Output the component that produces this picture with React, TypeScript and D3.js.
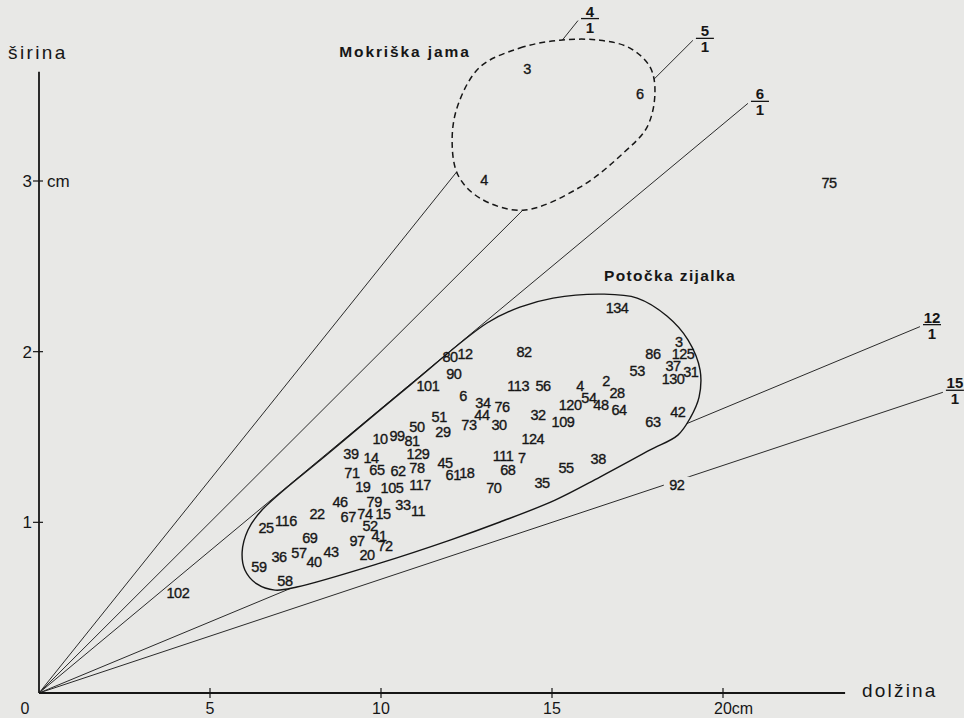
import React, { useEffect, useRef } from "react";
import * as d3 from "d3";

const WIDTH = 964;
const HEIGHT = 718;
const PAPER = "#e8e8e6";
const INK = "#161616";
const FONT = "'Liberation Sans', Arial, sans-serif";

// axes
const xTicks = [5, 10, 15, 20];
const yTicks = [1, 2, 3];

// ratio lines (length : width) and the length (cm) where each one stops
const ratios = [4, 5, 6, 12, 15];
const ratioEnds = [15.76, 19.12, 20.73, 25.76, 26.43];

// outlines, [length, width] in cm
const mokriskaOutline: [number, number][] = [
  [12.89, 3.667], [14.06, 3.779], [15.23, 3.825], [16.4, 3.825], [17.28, 3.779],
  [17.87, 3.667], [18.01, 3.515], [17.78, 3.316], [17.08, 3.163], [15.82, 2.964],
  [14.15, 2.829], [12.89, 2.9], [12.25, 3.035], [12.08, 3.24], [12.25, 3.445],
];

const potockaOutline: [number, number][] = [
  [13.1, 2.168], [14.06, 2.261], [15.03, 2.314], [16.49, 2.337], [17.49, 2.314],
  [18.36, 2.209], [18.98, 2.068], [19.33, 1.892], [19.3, 1.734], [19.04, 1.611],
  [18.68, 1.511], [17.87, 1.424], [16.4, 1.265], [15.09, 1.13], [13.48, 1.002],
  [12.02, 0.896], [9.97, 0.761], [7.54, 0.621], [6.9, 0.603], [6.37, 0.639],
  [6.02, 0.721], [5.94, 0.826], [6.11, 0.955], [6.52, 1.072], [8.51, 1.412],
  [10.85, 1.804],
];

// Mokriška jama specimens
const mokriskaIds = ["3", "6", "4"];
const mokriskaLength = [14.27, 17.57, 13.01];
const mokriskaWidth = [3.66, 3.51, 3.01];

// single specimen outside both groups
const otherIds = ["75"];
const otherLength = [23.1];
const otherWidth = [2.99];

// Potočka zijalka specimens
const potockaIds = [
  "134", "3", "86", "125", "37", "53", "31", "130", "82", "113", "56", "4", "2", "28",
  "54", "120", "48", "64", "42", "32", "109", "63", "124", "101", "6", "34", "76", "51",
  "44", "73", "30", "50", "29", "99", "10", "81", "129", "111", "7", "38", "45", "62",
  "78", "61", "18", "68", "55", "117", "105", "70", "35", "92", "39", "14", "71", "65",
  "19", "46", "79", "33", "11", "22", "67", "74", "15", "116", "25", "52", "69", "41",
  "97", "72", "57", "43", "20", "36", "40", "59", "58", "102", "80", "12", "90",
];
const potockaLength = [
  16.9, 18.71, 17.95, 18.83, 18.54, 17.49, 19.06, 18.54, 14.18, 14.01, 14.74, 15.82, 16.58, 16.9,
  16.08, 15.53, 16.43, 16.96, 18.68, 14.59, 15.32, 17.95, 14.44, 11.37, 12.4, 12.98, 13.54, 11.7,
  12.95, 12.57, 13.45, 11.05, 11.81, 10.47, 9.97, 10.91, 11.08, 13.57, 14.12, 16.35, 11.87, 10.5,
  11.05, 12.11, 12.51, 13.71, 15.41, 11.14, 10.32, 13.3, 14.71, 18.65, 9.12, 9.71, 9.15, 9.88,
  9.47, 8.8, 9.8, 10.64, 11.08, 8.13, 9.04, 9.53, 10.06, 7.22, 6.64, 9.68, 7.92, 9.94,
  9.3, 10.12, 7.6, 8.54, 9.59, 7.02, 8.04, 6.43, 7.19, 4.06, 12.02, 12.46, 12.13,
];
const potockaWidth = [
  2.26, 2.06, 1.99, 1.99, 1.92, 1.89, 1.88, 1.84, 2.0, 1.8, 1.8, 1.8, 1.83, 1.76,
  1.73, 1.69, 1.69, 1.66, 1.65, 1.63, 1.59, 1.59, 1.49, 1.8, 1.74, 1.7, 1.68, 1.62,
  1.63, 1.57, 1.57, 1.56, 1.53, 1.51, 1.49, 1.48, 1.4, 1.39, 1.38, 1.37, 1.35, 1.3,
  1.32, 1.28, 1.29, 1.31, 1.32, 1.22, 1.2, 1.2, 1.23, 1.22, 1.4, 1.38, 1.29, 1.31,
  1.21, 1.12, 1.12, 1.1, 1.07, 1.05, 1.03, 1.05, 1.05, 1.01, 0.97, 0.98, 0.91, 0.92,
  0.89, 0.86, 0.82, 0.83, 0.81, 0.8, 0.77, 0.74, 0.66, 0.59, 1.97, 1.99, 1.87,
];

function App() {
  const ref = useRef<SVGSVGElement>(null);

  useEffect(() => {
    if (!ref.current) return;

    const x = d3.scaleLinear().domain([0, 20]).range([39, 723]);
    const y = d3.scaleLinear().domain([0, 3]).range([693, 181]);

    const svg = d3.select(ref.current);
    svg.selectAll("*").remove();

    svg.append("rect").attr("width", WIDTH).attr("height", HEIGHT).attr("fill", PAPER);

    const outline = d3
      .line<[number, number]>()
      .x((d) => x(d[0]))
      .y((d) => y(d[1]))
      .curve(d3.curveCatmullRomClosed.alpha(0.5));

    const points = (ids: string[], len: number[], wid: number[]) =>
      ids.map((id, i) => ({ id, l: len[i], w: wid[i] }));

    const potocka = points(potockaIds, potockaLength, potockaWidth);
    const label92 = potocka.find((d) => d.id === "92")!;

    // ratio lines are interrupted inside the two outlines and under "92"
    const mask = svg
      .append("defs")
      .append("mask")
      .attr("id", "cut")
      .attr("maskUnits", "userSpaceOnUse")
      .attr("x", 0)
      .attr("y", 0)
      .attr("width", WIDTH)
      .attr("height", HEIGHT);
    mask.append("rect").attr("width", WIDTH).attr("height", HEIGHT).attr("fill", "#fff");
    mask.append("path").attr("d", outline(mokriskaOutline)).attr("fill", "#000");
    mask.append("path").attr("d", outline(potockaOutline)).attr("fill", "#000");
    mask
      .append("rect")
      .attr("x", x(label92.l) - 13)
      .attr("y", y(label92.w) - 8)
      .attr("width", 26)
      .attr("height", 16)
      .attr("fill", "#000");

    const rays = ratios.map((r, i) => ({ r, end: ratioEnds[i] }));

    svg
      .append("g")
      .attr("mask", "url(#cut)")
      .selectAll("line")
      .data(rays)
      .enter()
      .append("line")
      .attr("x1", x(0))
      .attr("y1", y(0))
      .attr("x2", (d) => x(d.end))
      .attr("y2", (d) => y(d.end / d.r))
      .attr("stroke", "#2a2a2a")
      .attr("stroke-width", 1);

    // fraction labels at line ends
    const frac = svg
      .append("g")
      .selectAll("g")
      .data(rays)
      .enter()
      .append("g")
      .attr("transform", (d) => `translate(${x(d.end) + 12} ${y(d.end / d.r) - 2})`)
      .attr("font-family", FONT)
      .attr("font-weight", 700)
      .attr("font-size", 15)
      .attr("fill", INK)
      .attr("text-anchor", "middle");
    frac.append("text").attr("y", -2).text((d) => d.r);
    frac
      .append("line")
      .attr("x1", -9)
      .attr("x2", 9)
      .attr("stroke", INK)
      .attr("stroke-width", 1.3);
    frac.append("text").attr("y", 14).text("1");

    // outlines
    svg
      .append("path")
      .attr("d", outline(mokriskaOutline))
      .attr("fill", "none")
      .attr("stroke", INK)
      .attr("stroke-width", 1.5)
      .attr("stroke-dasharray", "6 4");

    svg
      .append("path")
      .attr("d", outline(potockaOutline))
      .attr("fill", "none")
      .attr("stroke", INK)
      .attr("stroke-width", 1.4);

    // axes
    const axes = svg.append("g").attr("stroke", INK).attr("stroke-width", 1.8);
    axes.append("line").attr("x1", x(0)).attr("x2", x(23.57)).attr("y1", y(0)).attr("y2", y(0));
    axes.append("line").attr("x1", x(0)).attr("x2", x(0)).attr("y1", y(0)).attr("y2", y(3.64));
    axes
      .selectAll(".xt")
      .data(xTicks)
      .enter()
      .append("line")
      .attr("x1", (d) => x(d))
      .attr("x2", (d) => x(d))
      .attr("y1", y(0) - 5)
      .attr("y2", y(0) + 5)
      .attr("stroke-width", 1.2);
    axes
      .selectAll(".yt")
      .data(yTicks)
      .enter()
      .append("line")
      .attr("x1", x(0) - 6)
      .attr("x2", x(0) + 4)
      .attr("y1", (d) => y(d))
      .attr("y2", (d) => y(d))
      .attr("stroke-width", 1.2);

    const labels = svg.append("g").attr("font-family", FONT).attr("fill", INK);

    labels
      .selectAll(".xl")
      .data(xTicks)
      .enter()
      .append("text")
      .attr("x", (d) => (d === 20 ? x(d) - 9 : x(d)))
      .attr("y", 714)
      .attr("font-size", 16)
      .attr("text-anchor", (d) => (d === 20 ? "start" : "middle"))
      .text((d) => (d === 20 ? "20cm" : d));
    labels
      .append("text")
      .attr("x", x(0) - 14)
      .attr("y", 714)
      .attr("font-size", 16)
      .attr("text-anchor", "middle")
      .text("0");

    labels
      .selectAll(".yl")
      .data(yTicks)
      .enter()
      .append("text")
      .attr("x", x(0) - 7)
      .attr("y", (d) => y(d))
      .attr("dy", "0.36em")
      .attr("font-size", 17)
      .attr("text-anchor", "end")
      .text((d) => d);
    labels
      .append("text")
      .attr("x", x(0) + 8)
      .attr("y", y(3))
      .attr("dy", "0.36em")
      .attr("font-size", 17)
      .text("cm");

    labels
      .append("text")
      .attr("x", 8)
      .attr("y", 59)
      .attr("font-size", 19)
      .attr("letter-spacing", 2.4)
      .text("širina");
    labels
      .append("text")
      .attr("x", 862)
      .attr("y", 697)
      .attr("font-size", 19)
      .attr("letter-spacing", 2.2)
      .text("dolžina");

    labels
      .append("text")
      .attr("x", 405)
      .attr("y", 57)
      .attr("font-size", 15.5)
      .attr("font-weight", 700)
      .attr("letter-spacing", 1.9)
      .attr("text-anchor", "middle")
      .text("Mokriška jama");
    labels
      .append("text")
      .attr("x", 670)
      .attr("y", 281)
      .attr("font-size", 15.5)
      .attr("font-weight", 700)
      .attr("letter-spacing", 1.4)
      .attr("text-anchor", "middle")
      .text("Potočka zijalka");

    // specimen numbers placed at (length, width)
    const all = [
      ...points(mokriskaIds, mokriskaLength, mokriskaWidth),
      ...points(otherIds, otherLength, otherWidth),
      ...potocka,
    ];

    labels
      .append("g")
      .attr("font-size", 14.5)
      .attr("letter-spacing", -0.5)
      .attr("stroke", INK)
      .attr("stroke-width", 0.35)
      .attr("text-anchor", "middle")
      .selectAll("text")
      .data(all)
      .enter()
      .append("text")
      .attr("x", (d) => x(d.l))
      .attr("y", (d) => y(d.w))
      .attr("dy", "0.36em")
      .text((d) => d.id);
  }, []);

  return (
    <svg
      ref={ref}
      width={WIDTH}
      height={HEIGHT}
      style={{ position: "absolute", left: 0, top: 0, display: "block" }}
    />
  );
}

export default App;
